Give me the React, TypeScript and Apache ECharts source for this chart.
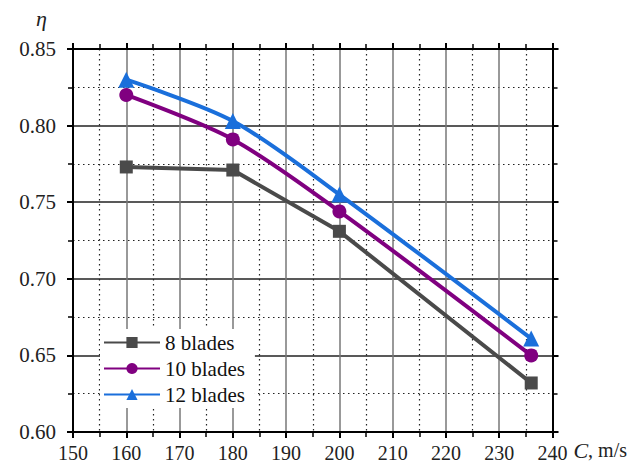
import React, { useEffect, useRef } from "react";
import * as echarts from "echarts";

const speeds = [160, 180, 200, 236];
const blades8 = [0.773, 0.771, 0.731, 0.632];
const blades10 = [0.820, 0.791, 0.744, 0.650];
const blades12 = [0.830, 0.803, 0.755, 0.661];
const seriesNames = ["8 blades", "10 blades", "12 blades"];

const FONT = "'Liberation Serif', 'Times New Roman', serif";

export default function App() {
  const ref = useRef<HTMLDivElement>(null);
  useEffect(() => {
    const chart = echarts.init(ref.current!, null, { renderer: "svg" });
    const pair = (vals: number[]) => speeds.map((s, i) => [s, vals[i]]);
    const axisCommon = {
      axisLine: { show: true, onZero: false, lineStyle: { color: "#000", width: 2 } },
      axisTick: { show: true, inside: false, length: 6, lineStyle: { color: "#000", width: 2 } },
      minorTick: { show: true, splitNumber: 2, length: 5, lineStyle: { color: "#000", width: 1.5 } },
    };
    const grid = { left: 73, right: 76, top: 49, bottom: 29 };
    chart.setOption({
      animation: false,
      textStyle: { fontFamily: FONT },
      grid,
      legend: {
        orient: "vertical",
        left: 100,
        top: 329,
        itemWidth: 56,
        itemHeight: 14,
        itemGap: 5,
        backgroundColor: "#fff",
        padding: [3, 10, 3, 3],
        textStyle: { fontFamily: FONT, fontSize: 21, color: "#111" },
        data: seriesNames,
      },
      xAxis: [
        {
          type: "value",
          min: 150,
          max: 240,
          interval: 10,
          position: "bottom",
          ...axisCommon,
          axisLabel: { fontFamily: FONT, fontSize: 20, color: "#222", margin: 11 },
          splitLine: { show: true, lineStyle: { color: "#777", width: 1.5 } },
          minorSplitLine: { show: true, lineStyle: { color: "#222", width: 1.2, type: [1.5, 3.5] } },
          name: "{i|C}{n|, m/s}",
          nameLocation: "end",
          nameGap: 6,
          nameTextStyle: {
            verticalAlign: "top",
            padding: [7, 0, 0, 0],
            rich: {
              i: { fontFamily: FONT, fontSize: 22, fontStyle: "italic", color: "#222" },
              n: { fontFamily: FONT, fontSize: 20, color: "#222" },
            },
          },
        },
        {
          type: "value",
          min: 150,
          max: 240,
          interval: 10,
          position: "top",
          ...axisCommon,
          axisLabel: { show: false },
          splitLine: { show: false },
        },
      ],
      yAxis: [
        {
          type: "value",
          min: 0.6,
          max: 0.85,
          interval: 0.05,
          position: "left",
          ...axisCommon,
          axisLabel: {
            fontFamily: FONT,
            fontSize: 21,
            color: "#222",
            margin: 17,
            formatter: (v: number) => v.toFixed(2),
          },
          splitLine: { show: true, lineStyle: { color: "#222", width: 1.5 } },
          minorSplitLine: { show: true, lineStyle: { color: "#222", width: 1.2, type: [1.5, 3.5] } },
          name: "η",
          nameLocation: "end",
          nameGap: 20,
          nameTextStyle: {
            fontFamily: FONT,
            fontSize: 22,
            fontStyle: "italic",
            color: "#222",
            align: "right",
            padding: [0, 26, 0, 0],
          },
        },
        {
          type: "value",
          min: 0.6,
          max: 0.85,
          interval: 0.05,
          position: "right",
          ...axisCommon,
          axisLabel: { show: false },
          splitLine: { show: false },
        },
      ],
      series: [
        {
          name: seriesNames[0],
          type: "line",
          data: pair(blades8),
          symbol: "rect",
          symbolSize: 13,
          color: "#4a4a4a",
          lineStyle: { width: 4, color: "#4a4a4a" },
          z: 3,
        },
        {
          name: seriesNames[1],
          type: "line",
          data: pair(blades10),
          smooth: 0.3,
          symbol: "circle",
          symbolSize: 14,
          color: "#800080",
          lineStyle: { width: 4, color: "#800080" },
          z: 4,
        },
        {
          name: seriesNames[2],
          type: "line",
          data: pair(blades12),
          smooth: 0.3,
          symbol: "triangle",
          symbolSize: 16,
          color: "#1a6fdb",
          lineStyle: { width: 4, color: "#1a6fdb" },
          z: 5,
        },
      ],
    });
    return () => chart.dispose();
  }, []);
  return (
    <div
      ref={ref}
      style={{ position: "absolute", left: 0, top: 0, width: 630, height: 463 }}
    />
  );
}
